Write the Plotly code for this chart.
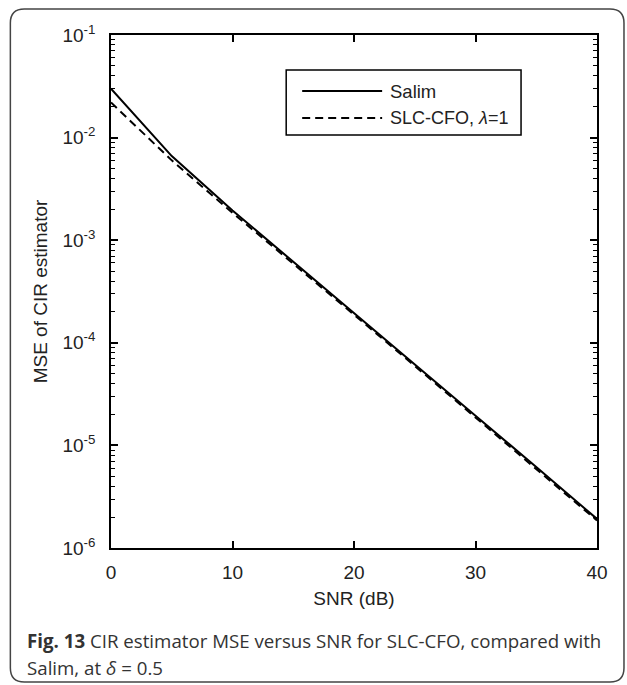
import plotly.graph_objects as go

snr_db = [0, 5, 10, 15, 20, 25, 30, 35, 40]
mse_salim = [3.0e-2, 6.6e-3, 1.95e-3, 6.2e-4, 1.95e-4, 6.15e-5, 1.95e-5, 6.15e-6, 1.92e-6]
mse_slc = [2.2e-2, 6.0e-3, 1.85e-3, 5.95e-4, 1.88e-4, 5.95e-5, 1.88e-5, 5.9e-6, 1.85e-6]
series_names = ["Salim", "SLC-CFO, <i>λ</i>=1"]
x_ticks = [0, 10, 20, 30, 40]
y_ticks = [1e-6, 1e-5, 1e-4, 1e-3, 1e-2, 1e-1]
y_ticktext = ["10<sup>-6</sup>", "10<sup>-5</sup>", "10<sup>-4</sup>",
              "10<sup>-3</sup>", "10<sup>-2</sup>", "10<sup>-1</sup>"]
y_minor = [m * 10.0 ** e for e in range(-6, -1) for m in range(2, 10)]

W, H = 627, 685
L, R, T, B = 110.7, 597.0, 35.0, 548.0
pw, ph = R - L, B - T

def px(x):
    return (x - L) / pw

def py(y):
    return (B - y) / ph

fig = go.Figure()
fig.add_trace(go.Scatter(x=snr_db, y=mse_salim, mode="lines", name=series_names[0],
                         line=dict(color="black", width=2)))
fig.add_trace(go.Scatter(x=snr_db, y=mse_slc, mode="lines", name=series_names[1],
                         line=dict(color="black", width=2, dash="8px,5px")))

font = "Liberation Sans, Arial, sans-serif"
axis_common = dict(showline=True, linecolor="black", linewidth=1.5, mirror="allticks",
                   ticks="inside", tickcolor="black", showgrid=False, zeroline=False,
                   tickfont=dict(family=font, size=19, color="#222"))
fig.update_xaxes(range=[0, 40], tickvals=x_ticks, ticklen=7, tickwidth=1.5,
                 title=dict(text="SNR (dB)", font=dict(family=font, size=19, color="#222"), standoff=10),
                 ticklabelstandoff=6, **axis_common)
fig.update_yaxes(type="log", range=[-6, -1], tickvals=y_ticks, ticktext=y_ticktext,
                 ticklen=7, tickwidth=1.5, ticklabelstandoff=10,
                 minor=dict(tickvals=y_minor, ticks="inside", ticklen=4, tickcolor="black", tickwidth=1),
                 title=dict(text="MSE of CIR estimator", font=dict(family=font, size=19, color="#222"), standoff=10),
                 **axis_common)

# manual legend
shapes = []
shapes.append(dict(type="rect", xref="paper", yref="paper", x0=px(286), x1=px(521), y0=py(135), y1=py(70),
                   line=dict(color="black", width=1.5), fillcolor="white"))
shapes.append(dict(type="line", xref="paper", yref="paper", x0=px(302), x1=px(382), y0=py(91), y1=py(91),
                   line=dict(color="black", width=2)))
shapes.append(dict(type="line", xref="paper", yref="paper", x0=px(302), x1=px(382), y0=py(118), y1=py(118),
                   line=dict(color="black", width=2, dash="8px,5px")))
# figure frame with rounded corners
bx0, bx1, by0, by1, r = 10, 624, 9, 682, 14
path = (f"M{px(bx0 + r)},{py(by0)} L{px(bx1 - r)},{py(by0)} "
        f"Q{px(bx1)},{py(by0)} {px(bx1)},{py(by0 + r)} "
        f"L{px(bx1)},{py(by1 - r)} Q{px(bx1)},{py(by1)} {px(bx1 - r)},{py(by1)} "
        f"L{px(bx0 + r)},{py(by1)} Q{px(bx0)},{py(by1)} {px(bx0)},{py(by1 - r)} "
        f"L{px(bx0)},{py(by0 + r)} Q{px(bx0)},{py(by0)} {px(bx0 + r)},{py(by0)} Z")
shapes.append(dict(type="path", xref="paper", yref="paper", path=path, layer="below",
                   line=dict(color="#444", width=1.5)))

cap_font = dict(family="Open Sans, sans-serif", size=18.7, color="#333")
annotations = [
    dict(xref="paper", yref="paper", x=px(388), y=py(91), text=series_names[0], showarrow=False,
         xanchor="left", yanchor="middle", font=dict(family=font, size=18.5, color="#222")),
    dict(xref="paper", yref="paper", x=px(388), y=py(118), text=series_names[1], showarrow=False,
         xanchor="left", yanchor="middle", font=dict(family=font, size=18, color="#222")),
    dict(xref="paper", yref="paper", x=px(25), y=py(640),
         text="<b>Fig. 13</b> CIR estimator MSE versus SNR for SLC-CFO, compared with",
         showarrow=False, xanchor="left", yanchor="middle", font=cap_font),
    dict(xref="paper", yref="paper", x=px(25), y=py(667), text="Salim, at <i>δ</i> = 0.5",
         showarrow=False, xanchor="left", yanchor="middle", font=cap_font),
]

fig.update_layout(width=W, height=H, margin=dict(l=L, r=W - R, t=T, b=H - B),
                  plot_bgcolor="white", paper_bgcolor="white", showlegend=False,
                  shapes=shapes, annotations=annotations)
fig.write_html("out.html", config={"displayModeBar": False},
               post_script="document.body.style.margin='0';document.body.style.overflow='hidden';")
